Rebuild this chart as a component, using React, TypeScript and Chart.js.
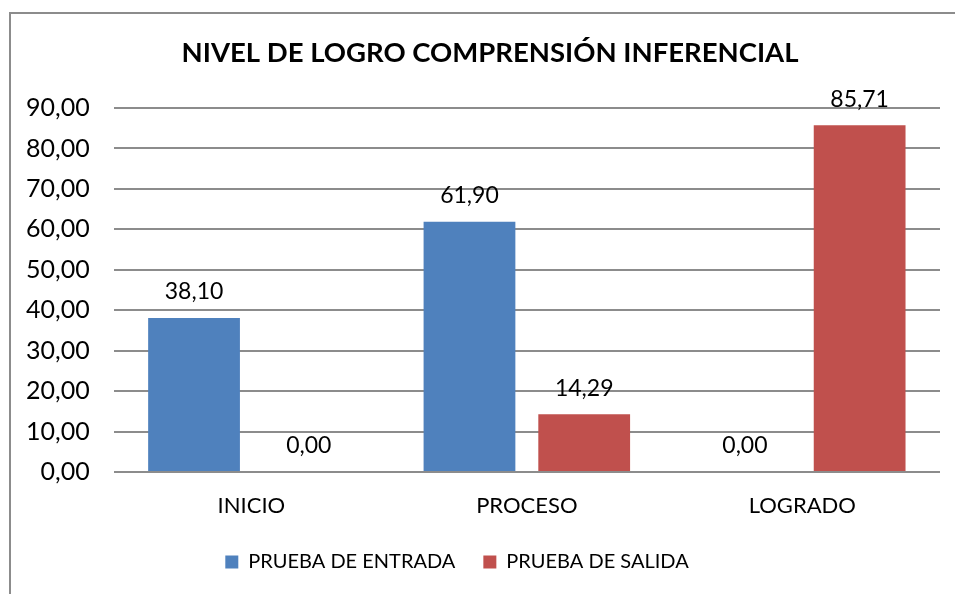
import React, { useEffect, useRef } from "react";
import { Chart, registerables } from "chart.js";

Chart.register(...registerables);

const categories = ["INICIO", "PROCESO", "LOGRADO"];
const entrada = [38.1, 61.9, 0.0];
const salida = [0.0, 14.29, 85.71];
const seriesNames = ["PRUEBA DE ENTRADA", "PRUEBA DE SALIDA"];
const titleText = "NIVEL DE LOGRO COMPRENSIÓN INFERENCIAL";

const FONT = "Lato, 'Open Sans', sans-serif";
const fmt = (v: number) => v.toFixed(2).replace(".", ",");

const valueLabels = {
  id: "valueLabels",
  afterDatasetsDraw(chart: any) {
    const ctx = chart.ctx;
    ctx.save();
    ctx.font = `23px ${FONT}`;
    ctx.fillStyle = "#000";
    ctx.textAlign = "center";
    ctx.textBaseline = "middle";
    chart.data.datasets.forEach((ds: any, i: number) => {
      const meta = chart.getDatasetMeta(i);
      meta.data.forEach((bar: any, j: number) => {
        ctx.fillText(fmt(ds.data[j]), bar.x, bar.y - 26);
      });
    });
    ctx.restore();
  },
};

// nudge title and legend horizontally like the original layout
const blockShift = {
  id: "blockShift",
  afterLayout(chart: any) {
    if (chart.titleBlock) {
      chart.titleBlock.left += 19;
      chart.titleBlock.right += 19;
    }
    if (chart.legend) {
      chart.legend.left -= 14;
      chart.legend.right -= 14;
    }
  },
};

export default function App() {
  const ref = useRef<HTMLCanvasElement>(null);
  useEffect(() => {
    document.body.style.margin = "0";
    const chart = new Chart(ref.current!, {
      type: "bar",
      data: {
        labels: categories,
        datasets: [
          { label: seriesNames[0], data: entrada, backgroundColor: "#4F81BD", categoryPercentage: 0.833, barPercentage: 0.8 },
          { label: seriesNames[1], data: salida, backgroundColor: "#C0504D", categoryPercentage: 0.833, barPercentage: 0.8 },
        ],
      },
      options: {
        animation: false,
        responsive: false,
        layout: { padding: { top: 37, left: 2, right: 15, bottom: 12 } },
        plugins: {
          title: {
            display: true,
            text: titleText,
            color: "#000",
            font: { family: FONT, size: 27.5, weight: "bold" },
            padding: { top: 0, bottom: 38 },
          },
          legend: {
            position: "bottom",
            labels: {
              color: "#000",
              font: { family: FONT, size: 20 },
              boxWidth: 13,
              boxHeight: 13,
              padding: 28,
            },
          },
          tooltip: { enabled: false },
        },
        scales: {
          x: {
            grid: { display: false, drawTicks: false },
            border: { display: false },
            ticks: { color: "#000", font: { family: FONT, size: 22 }, padding: 21 },
            afterFit: (scale: any) => {
              scale.height = 52;
            },
          },
          y: {
            min: 0,
            max: 90,
            grid: { color: "#8c8c8c", lineWidth: 2, drawTicks: false },
            border: { display: false },
            ticks: {
              stepSize: 10,
              color: "#000",
              font: { family: FONT, size: 25 },
              padding: 24,
              callback: (v: any) => fmt(Number(v)),
            },
          },
        },
      },
      plugins: [valueLabels, blockShift],
    });
    return () => chart.destroy();
  }, []);
  return (
    <div style={{ position: "relative", width: 955, height: 594, overflow: "hidden", background: "#fff" }}>
      <div
        style={{
          position: "absolute",
          left: 9,
          top: 12,
          width: 2000,
          height: 2000,
          borderTop: "2px solid #8c8c8c",
          borderLeft: "2px solid #8c8c8c",
        }}
      />
      <canvas ref={ref} width={955} height={594} style={{ position: "absolute", left: 0, top: 0 }} />
    </div>
  );
}
